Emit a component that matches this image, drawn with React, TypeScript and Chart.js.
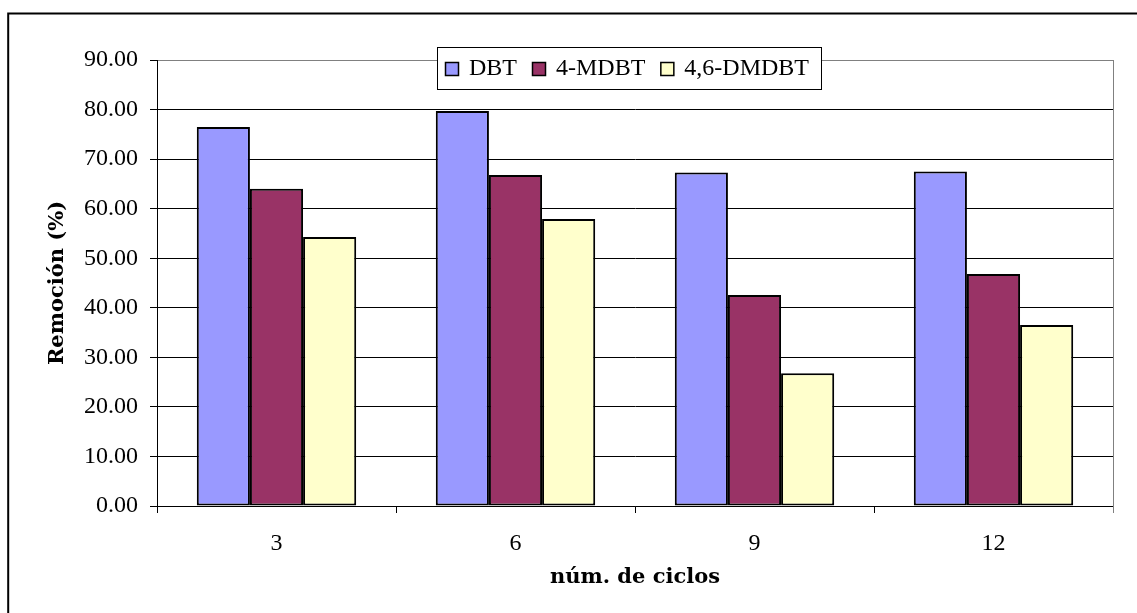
import React, { useEffect, useRef } from "react";
import { Chart, registerables } from "chart.js";

Chart.register(...registerables);

const categories = ["3", "6", "9", "12"];
const seriesNames = ["DBT", "4-MDBT", "4,6-DMDBT"];
const dbtValues = [76.5, 79.7, 67.3, 67.5];
const mdbtValues = [64.0, 66.8, 42.6, 46.8];
const dmdbtValues = [54.3, 57.9, 26.8, 36.5];
const yTicks = [0, 10, 20, 30, 40, 50, 60, 70, 80, 90];
const xTitle = "núm. de ciclos";
const yTitle = "Remoción (%)";

const colors = ["#9999FF", "#993366", "#FFFFCC"];
const SERIF = "'Liberation Serif', 'Times New Roman', serif";
const TITLE_FONT = "'DejaVu Serif', serif";

const framePlugin = {
  id: "frame",
  beforeDatasetsDraw(chart: any) {
    const { ctx, chartArea } = chart;
    ctx.save();
    ctx.strokeStyle = "#808080";
    ctx.lineWidth = 1;
    ctx.beginPath();
    const x = Math.round(chartArea.right) + 0.5;
    ctx.moveTo(x, chartArea.top);
    ctx.lineTo(x, chartArea.bottom + 7);
    ctx.stroke();
    ctx.restore();
  },
  afterDraw(chart: any) {
    const { ctx, chartArea } = chart;
    ctx.save();
    // outer frame
    ctx.strokeStyle = "#000";
    ctx.lineWidth = 2;
    ctx.strokeRect(8.2, 13.5, chart.width + 20, chart.height + 20);

    // legend
    ctx.font = `24px ${SERIF}`;
    ctx.textBaseline = "middle";
    const box = 14;
    const gapBoxText = 10;
    const gapItems = 15;
    const padL = 8;
    const padR = 12;
    const ds = chart.data.datasets;
    const widths = ds.map((d: any) => ctx.measureText(d.label).width);
    let total = padL + padR;
    widths.forEach((w: number, i: number) => {
      total += box + gapBoxText + w + (i < widths.length - 1 ? gapItems : 0);
    });
    const cx = (chartArea.left + chartArea.right) / 2 - 6;
    const left = Math.round(cx - total / 2);
    const top = chartArea.top - 13;
    const h = 42;
    ctx.fillStyle = "#fff";
    ctx.fillRect(left, top, total, h);
    ctx.strokeStyle = "#000";
    ctx.lineWidth = 1;
    ctx.strokeRect(left + 0.5, top + 0.5, total, h);
    let x = left + padL;
    const cy = top + h / 2 + 1;
    ds.forEach((d: any, i: number) => {
      ctx.fillStyle = d.backgroundColor;
      ctx.fillRect(x, cy - box / 2, box, box);
      ctx.strokeStyle = "#000";
      ctx.lineWidth = 1.5;
      ctx.strokeRect(x + 0.5, cy - box / 2 + 0.5, box - 1, box - 1);
      ctx.fillStyle = "#000";
      ctx.textAlign = "left";
      ctx.fillText(d.label, x + box + gapBoxText, cy);
      x += box + gapBoxText + widths[i] + gapItems;
    });
    ctx.restore();
  },
};

export default function App() {
  const ref = useRef<HTMLCanvasElement>(null);
  useEffect(() => {
    if (!ref.current) return;
    const seriesValues = [dbtValues, mdbtValues, dmdbtValues];
    const chart = new Chart(ref.current, {
      type: "bar",
      data: {
        labels: categories,
        datasets: seriesNames.map((name, i) => ({
          label: name,
          data: seriesValues[i],
          backgroundColor: colors[i],
          borderColor: "#000",
          borderWidth: 2,
          borderSkipped: false,
          categoryPercentage: 0.667,
          barPercentage: 1,
        })),
      },
      options: {
        responsive: false,
        animation: false,
        devicePixelRatio: 1,
        layout: { padding: { top: 60, right: 24, left: 0, bottom: 0 } },
        plugins: {
          legend: { display: false },
          tooltip: { enabled: false },
        },
        scales: {
          x: {
            offset: true,
            grid: {
              offset: true,
              drawOnChartArea: false,
              drawTicks: true,
              tickLength: 7,
              color: "#000",
              tickColor: "#000",
            },
            border: { display: true, color: "#000", width: 1 },
            ticks: {
              color: "#000",
              font: { family: SERIF, size: 24 },
              padding: 16,
              maxRotation: 0,
            },
            title: {
              display: true,
              text: xTitle,
              color: "#000",
              font: { family: TITLE_FONT, size: 21, weight: "bold" },
              padding: { top: 0, bottom: 23 },
            },
            afterFit(scale: any) {
              scale.height = 107;
            },
          },
          y: {
            min: 0,
            max: 90,
            afterBuildTicks(scale: any) {
              scale.ticks = yTicks.map((v) => ({ value: v }));
            },
            grid: {
              color: (c: any) => (c.tick && c.tick.value === 90 ? "#808080" : "#000"),
              tickColor: "#000",
              tickLength: 7,
              lineWidth: 1,
            },
            border: { display: true, color: "#000", width: 1 },
            ticks: {
              color: "#000",
              font: { family: SERIF, size: 24 },
              padding: 12,
              callback: (v: any) => Number(v).toFixed(2),
            },
            title: {
              display: true,
              text: yTitle,
              color: "#000",
              font: { family: TITLE_FONT, size: 21, weight: "bold" },
              padding: { top: 45, bottom: 0 },
            },
            afterFit(scale: any) {
              scale.width = 157;
            },
          },
        },
      },
      plugins: [framePlugin],
    });
    return () => chart.destroy();
  }, []);
  return (
    <div style={{ position: "fixed", left: 0, top: 0, width: 1137, height: 613, background: "#fff" }}>
      <canvas ref={ref} width={1137} height={613} style={{ display: "block" }} />
    </div>
  );
}
